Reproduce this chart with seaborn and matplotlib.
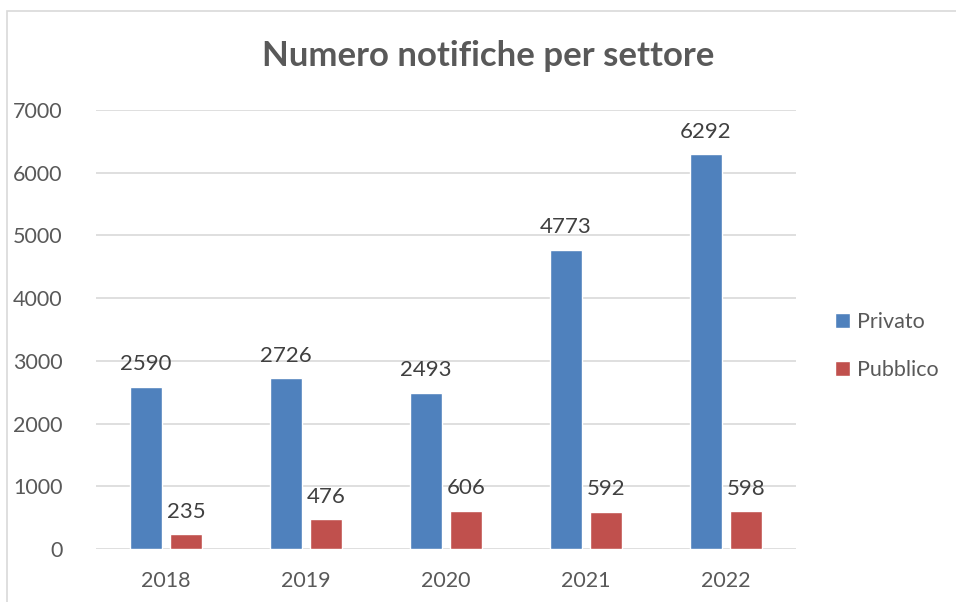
import pandas as pd
import matplotlib
matplotlib.use("Agg")
import matplotlib.pyplot as plt
import seaborn as sns
from matplotlib.patches import Rectangle

# Dati
anni = ["2018", "2019", "2020", "2021", "2022"]
privato = [2590, 2726, 2493, 4773, 6292]
pubblico = [235, 476, 606, 592, 598]
settori = ["Privato", "Pubblico"]
colori = ["#4F81BD", "#C0504D"]

df = pd.DataFrame({
    "anno": anni * 2,
    "settore": [settori[0]] * len(anni) + [settori[1]] * len(anni),
    "notifiche": privato + pubblico,
})

sns.set_style("white")
plt.rcParams["font.family"] = ["Lato", "DejaVu Sans"]
testo = "#595959"

fig = plt.figure(figsize=(9.56, 6.02), dpi=100)
ax = fig.add_axes([96 / 956, 1 - 549 / 602, 700 / 956, 439 / 602])

sns.barplot(data=df, x="anno", y="notifiche", hue="settore", palette=colori,
            saturation=1, width=0.571, gap=0.2, ax=ax, legend=True)

for c in ax.containers:
    ax.bar_label(c, fontsize=16, color="#404040", padding=9)

ax.set_ylim(0, 7000)
ax.set_yticks(range(0, 7001, 1000))
ax.set_xlim(-0.5, 4.5)
ax.set_xlabel("")
ax.set_ylabel("")
ax.grid(axis="y", color="#D9D9D9", linewidth=1.2)
ax.set_axisbelow(True)
for s in ax.spines.values():
    s.set_visible(False)
ax.tick_params(axis="y", length=0, pad=24, labelsize=15.5, labelcolor=testo)
ax.tick_params(axis="x", length=0, pad=16, labelsize=15.5, labelcolor=testo)

ax.legend(loc="center left", bbox_to_anchor=(816 / 956, 1 - 346 / 602),
          bbox_transform=fig.transFigure, frameon=False, fontsize=15.5,
          handlelength=0.7, handleheight=0.7, handletextpad=0.3,
          labelspacing=1.3, labelcolor=testo)

fig.text(488 / 956, 1 - 56 / 602, "Numero notifiche per settore", ha="center",
         va="center", fontsize=25, fontweight="bold", color=testo)

# cornice del grafico
fig.patches.append(Rectangle((7 / 956, -0.1), 1.1, 1.1 - 11 / 602,
                             transform=fig.transFigure, fill=False,
                             edgecolor="#D9D9D9", linewidth=1.2))

fig.savefig("out.png", dpi=100)
